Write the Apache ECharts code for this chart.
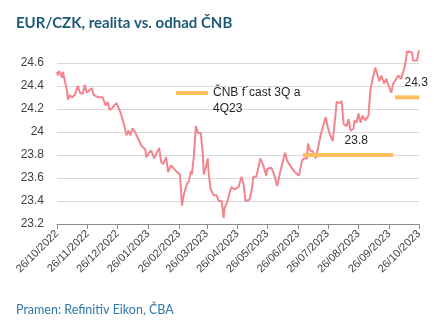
<!DOCTYPE html>
<html>
<head>
<meta charset="utf-8">
<script src="https://cdn.jsdelivr.net/npm/echarts@6/dist/echarts.min.js"></script>
<style>
  html, body { margin: 0; padding: 0; background: #fff; }
  #chart { width: 434px; height: 321px; }
</style>
</head>
<body>
<div id="chart"></div>
<script>
// EUR/CZK daily fixing, 26 Oct 2022 – 26 Oct 2023
const fxDates = [
  '2022-10-26','2022-10-27','2022-10-28','2022-10-30','2022-10-31','2022-11-01','2022-11-03','2022-11-05',
  '2022-11-06','2022-11-08','2022-11-10','2022-11-13','2022-11-16','2022-11-18','2022-11-21','2022-11-23',
  '2022-11-25','2022-11-27','2022-11-30','2022-12-02','2022-12-04','2022-12-07','2022-12-11','2022-12-14',
  '2022-12-16','2022-12-18','2022-12-21','2022-12-25','2022-12-27','2022-12-29','2023-01-02','2023-01-04',
  '2023-01-06','2023-01-08','2023-01-10','2023-01-12','2023-01-14','2023-01-17','2023-01-19','2023-01-23',
  '2023-01-24','2023-01-27','2023-01-29','2023-02-01','2023-02-03','2023-02-06','2023-02-08','2023-02-10',
  '2023-02-13','2023-02-15','2023-02-18','2023-02-20','2023-02-24','2023-02-27','2023-03-01','2023-03-03',
  '2023-03-06','2023-03-08','2023-03-10','2023-03-11','2023-03-13','2023-03-15','2023-03-17','2023-03-20',
  '2023-03-22','2023-03-23','2023-03-25','2023-03-27','2023-03-28','2023-03-30','2023-04-02','2023-04-05',
  '2023-04-07','2023-04-10','2023-04-12','2023-04-13','2023-04-16','2023-04-18','2023-04-20','2023-04-23',
  '2023-04-27','2023-04-30','2023-05-02','2023-05-04','2023-05-08','2023-05-10','2023-05-12','2023-05-15',
  '2023-05-19','2023-05-22','2023-05-25','2023-05-26','2023-05-30','2023-06-02','2023-06-05','2023-06-08',
  '2023-06-13','2023-06-15','2023-06-17','2023-06-21','2023-06-23','2023-06-27','2023-06-30','2023-07-02',
  '2023-07-05','2023-07-06','2023-07-08','2023-07-11','2023-07-14','2023-07-16','2023-07-19','2023-07-22',
  '2023-07-24','2023-07-26','2023-07-28','2023-07-31','2023-08-02','2023-08-04','2023-08-06','2023-08-07',
  '2023-08-09','2023-08-11','2023-08-14','2023-08-16','2023-08-18','2023-08-21','2023-08-22','2023-08-24',
  '2023-08-26','2023-08-28','2023-08-30','2023-09-02','2023-09-05','2023-09-07','2023-09-09','2023-09-12',
  '2023-09-14','2023-09-16','2023-09-18','2023-09-21','2023-09-23','2023-09-26','2023-09-28','2023-09-30',
  '2023-10-03','2023-10-05','2023-10-08','2023-10-10','2023-10-12','2023-10-14','2023-10-16','2023-10-19',
  '2023-10-20','2023-10-24','2023-10-25','2023-10-26'
];
const fxValues = [
  24.52, 24.49, 24.53, 24.50, 24.47, 24.52, 24.44, 24.36,
  24.28, 24.32, 24.30, 24.32, 24.40, 24.34, 24.33, 24.41,
  24.34, 24.34, 24.38, 24.32, 24.33, 24.30, 24.30, 24.23,
  24.26, 24.19, 24.21, 24.25, 24.21, 24.17, 24.05, 23.97,
  24.01, 23.97, 24.03, 24.01, 24.02, 23.92, 23.88, 23.85,
  23.78, 23.82, 23.84, 23.77, 23.81, 23.86, 23.74, 23.72,
  23.78, 23.65, 23.71, 23.72, 23.65, 23.63, 23.36, 23.46,
  23.55, 23.57, 23.66, 23.63, 23.79, 24.05, 23.99, 23.99,
  23.81, 23.63, 23.69, 23.77, 23.63, 23.50, 23.45, 23.45,
  23.40, 23.40, 23.25, 23.34, 23.40, 23.47, 23.52, 23.50,
  23.52, 23.61, 23.55, 23.40, 23.41, 23.48, 23.61, 23.61,
  23.77, 23.71, 23.62, 23.68, 23.69, 23.63, 23.53, 23.65,
  23.82, 23.75, 23.74, 23.67, 23.65, 23.62, 23.75, 23.77,
  23.77, 23.90, 23.84, 23.83, 23.77, 23.78, 23.98, 24.07,
  24.13, 24.04, 23.98, 23.92, 24.08, 24.26, 24.27, 24.25,
  24.27, 24.07, 24.05, 24.11, 24.01, 24.03, 24.10, 24.08,
  24.16, 24.08, 24.14, 24.10, 24.14, 24.36, 24.45, 24.56,
  24.57, 24.44, 24.49, 24.42, 24.46, 24.39, 24.34, 24.42,
  24.46, 24.49, 24.46, 24.52, 24.58, 24.70, 24.69, 24.69,
  24.62, 24.62, 24.63, 24.71
];

// CNB forecast for Q3 and Q4 2023
const q3Range = ['2023-07-01', '2023-09-30'];
const q3Value = 23.8;
const q4Range = ['2023-10-02', '2023-10-26'];
const q4Value = 24.3;

// monthly tick marks on the 26th
const tickDates = [
  '2022-10-26','2022-11-26','2022-12-26','2023-01-26','2023-02-26','2023-03-26','2023-04-26',
  '2023-05-26','2023-06-26','2023-07-26','2023-08-26','2023-09-26','2023-10-26'
];

const forecastName = 'ČNB f´cast 3Q a\n4Q23';

function toTime(s) {
  const p = s.split('-').map(Number);
  return new Date(p[0], p[1] - 1, p[2]).getTime();
}
function pad(n) { return (n < 10 ? '0' : '') + n; }

const tickTimes = tickDates.map(toTime);
const fxData = fxDates.map((d, i) => [toTime(d), fxValues[i]]);

const labelFont = 'Liberation Sans';
const orange = '#fdbf5e';
const chart = echarts.init(document.getElementById('chart'), null, { renderer: 'canvas' });

// value label shown next to one end of each forecast segment
function valueLabel(offset) {
  return {
    show: true, position: 'top', offset: offset,
    fontFamily: labelFont, fontSize: 12, color: '#262626',
    formatter: p => p.value[1].toFixed(1)
  };
}

chart.setOption({
  animation: false,
  backgroundColor: '#ffffff',
  title: [
    {
      text: 'EUR/CZK, realita vs. odhad ČNB',
      left: 11, top: 11,
      textStyle: { fontFamily: 'Lato', fontWeight: 'bold', fontSize: 15, color: '#1d5a78' }
    },
    {
      text: 'Pramen: Refinitiv Eikon, ČBA',
      left: 11, top: 298,
      textStyle: { fontFamily: 'Lato', fontWeight: 'normal', fontSize: 12.5, color: '#2f78a8' }
    }
  ],
  legend: {
    data: [forecastName],
    left: 171, top: 64,
    itemWidth: 32, itemHeight: 4,
    icon: 'rect',
    // leading blank line keeps the icon level with the first text line
    formatter: name => ' \n' + name,
    textStyle: { fontFamily: labelFont, fontSize: 12, color: '#262626', lineHeight: 16 }
  },
  grid: { left: 57, right: 15, top: 49, bottom: 97 },
  xAxis: {
    type: 'value',
    min: tickTimes[0],
    max: tickTimes[tickTimes.length - 1],
    axisLine: { lineStyle: { color: '#8c8c8c', width: 1 } },
    axisTick: { show: true, customValues: tickTimes, length: 5, lineStyle: { color: '#8c8c8c' } },
    axisLabel: {
      customValues: tickTimes,
      rotate: 45,
      margin: 8,
      fontFamily: labelFont, fontSize: 11, color: '#404040',
      formatter: function (v) {
        const d = new Date(v);
        return pad(d.getDate()) + '/' + pad(d.getMonth() + 1) + '/' + d.getFullYear();
      }
    },
    splitLine: { show: false }
  },
  yAxis: {
    type: 'value',
    min: 23.2, max: 24.72, interval: 0.2,
    axisLine: { show: false },
    axisTick: { show: false },
    axisLabel: {
      margin: 13, fontFamily: labelFont, fontSize: 12, color: '#404040',
      showMaxLabel: false,
      formatter: function (v) { return String(Math.round(v * 10) / 10); }
    },
    splitLine: { show: true, showMaxLine: false, lineStyle: { color: '#d9d9d9', width: 1 } }
  },
  series: [
    {
      name: 'EUR/CZK',
      type: 'line',
      data: fxData,
      showSymbol: false,
      symbol: 'none',
      lineStyle: { color: '#f4858e', width: 2 },
      itemStyle: { color: '#f4858e' },
      z: 2
    },
    {
      name: forecastName,
      type: 'line',
      data: [
        [toTime(q3Range[0]), q3Value],
        { value: [toTime(q3Range[1]), q3Value], label: valueLabel([-37, -3]) }
      ],
      showSymbol: true,
      symbol: 'circle', symbolSize: 1,
      lineStyle: { color: orange, width: 4 },
      itemStyle: { color: orange },
      z: 3
    },
    {
      name: forecastName,
      type: 'line',
      data: [
        { value: [toTime(q4Range[0]), q4Value], label: valueLabel([21, -3]) },
        [toTime(q4Range[1]), q4Value]
      ],
      showSymbol: true,
      symbol: 'circle', symbolSize: 1,
      lineStyle: { color: orange, width: 4 },
      itemStyle: { color: orange },
      z: 3
    }
  ]
});
</script>
</body>
</html>
